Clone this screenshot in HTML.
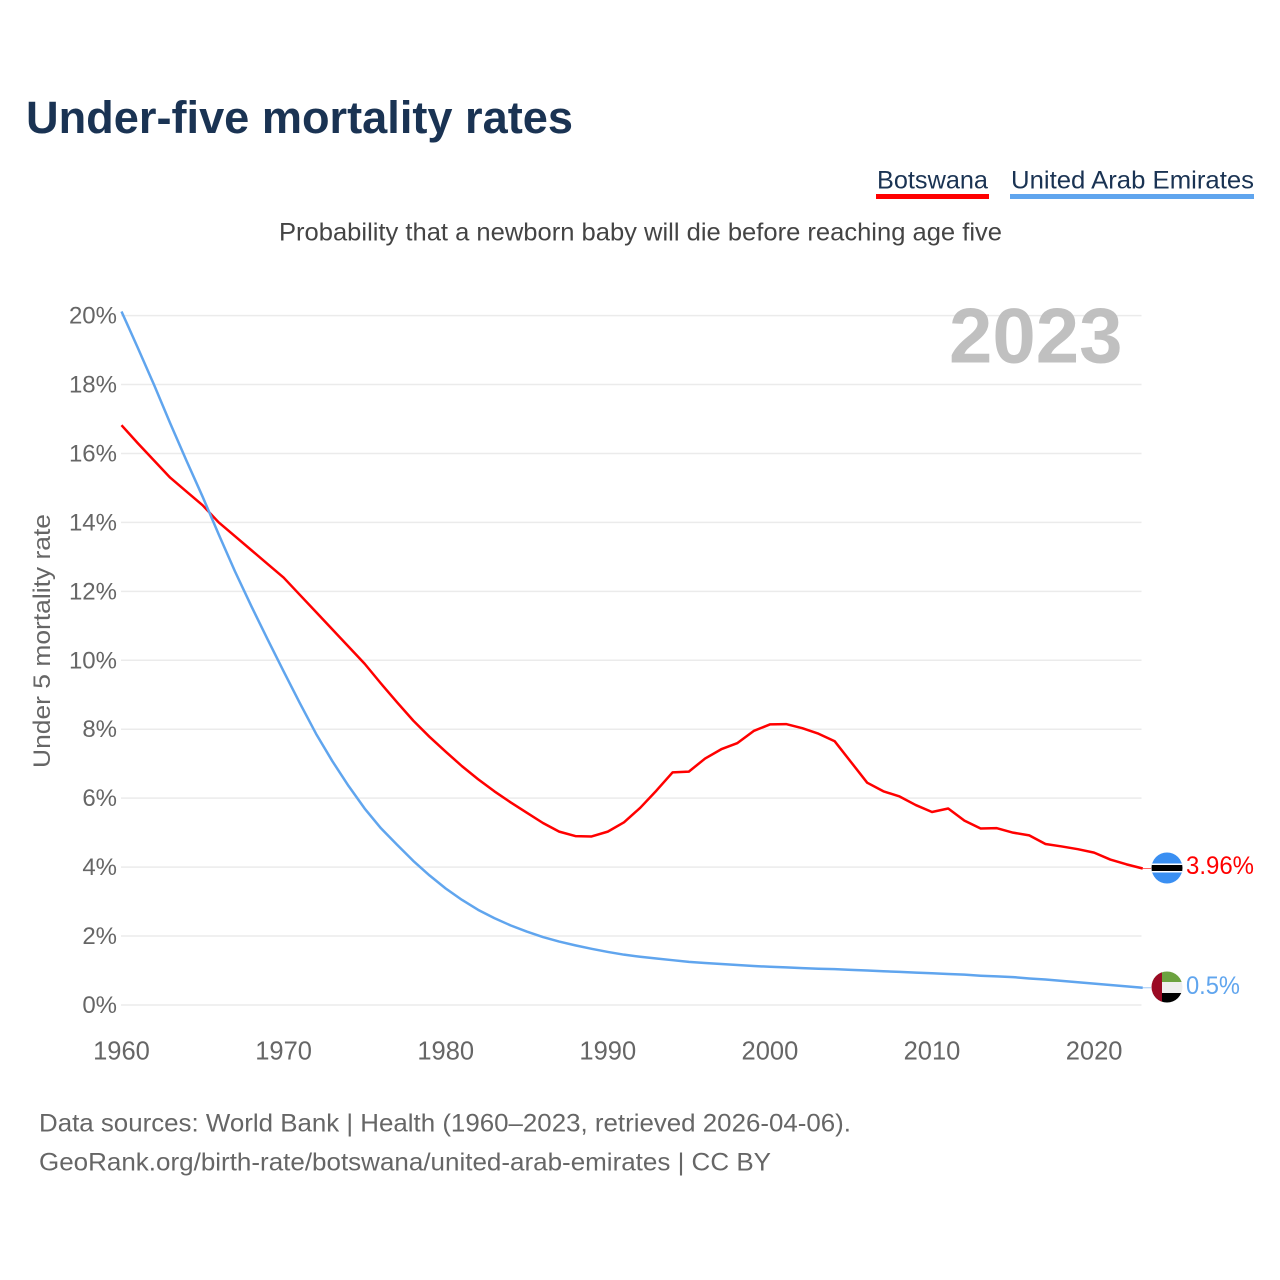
<!DOCTYPE html>
<html lang="en">
<head>
<meta charset="utf-8">
<title>Under-five mortality rates</title>
<style>
html,body{margin:0;padding:0;background:#fff;}
svg{display:block;font-family:"Liberation Sans",sans-serif;}
</style>
</head>
<body>
<svg id="chart" width="1280" height="1280" viewBox="0 0 1280 1280" xmlns="http://www.w3.org/2000/svg">
  <defs>
    <clipPath id="flag-clip-bw"><circle cx="1167" cy="868" r="15.5"/></clipPath>
    <clipPath id="flag-clip-ae"><circle cx="1167" cy="987" r="15.5"/></clipPath>
  </defs>
  <rect x="0" y="0" width="1280" height="1280" fill="#fff"/>
  <text x="26" y="133" font-size="45" font-weight="700" fill="#1a3353" textLength="547" lengthAdjust="spacingAndGlyphs">Under-five mortality rates</text>
  <g>
    <g>
      <text x="877" y="188.5" font-size="25" fill="#1a3353" textLength="111" lengthAdjust="spacingAndGlyphs">Botswana</text>
      <rect x="876" y="194" width="113" height="5" fill="#ff0000"/>
    </g>
    <g>
      <text x="1011" y="188.5" font-size="25" fill="#1a3353" textLength="243" lengthAdjust="spacingAndGlyphs">United Arab Emirates</text>
      <rect x="1010" y="194" width="244" height="5" fill="#60a5ee"/>
    </g>
  </g>
  <text x="279" y="240.5" font-size="25" fill="#444" textLength="723" lengthAdjust="spacingAndGlyphs">Probability that a newborn baby will die before reaching age five</text>

  <g id="grid"></g>
  <text x="949" y="362.5" font-size="78" font-weight="700" fill="#bdbdbd" fill-opacity="0.95">2023</text>
  <g id="y-axis"></g>
  <g id="x-axis"></g>
  <text transform="translate(50,768) rotate(-90)" x="0" y="0" font-size="24.5" fill="#666" textLength="254" lengthAdjust="spacingAndGlyphs">Under 5 mortality rate</text>
  <g id="series"></g>

  <g clip-path="url(#flag-clip-bw)">
    <rect x="1151" y="852" width="32" height="32" fill="#3a8ff2"/>
    <rect x="1151" y="863.5" width="32" height="9" fill="#fff"/>
    <rect x="1151" y="865" width="32" height="6" fill="#000"/>
  </g>
  <g clip-path="url(#flag-clip-ae)">
    <rect x="1151" y="971" width="32" height="11" fill="#6ca23f"/>
    <rect x="1151" y="982" width="32" height="11" fill="#eeeeee"/>
    <rect x="1151" y="993" width="32" height="11" fill="#000"/>
    <rect x="1151" y="971" width="11" height="33" fill="#9b0a24"/>
  </g>
  <text x="1186" y="874" font-size="25" fill="#ff0000" textLength="68" lengthAdjust="spacingAndGlyphs">3.96%</text>
  <text x="1186" y="994" font-size="25" fill="#60a5ee" textLength="54" lengthAdjust="spacingAndGlyphs">0.5%</text>

  <text x="39" y="1131.5" font-size="25" fill="#666" textLength="812" lengthAdjust="spacingAndGlyphs">Data sources: World Bank | Health (1960–2023, retrieved 2026-04-06).</text>
  <text x="39" y="1170.5" font-size="25" fill="#666" textLength="732" lengthAdjust="spacingAndGlyphs">GeoRank.org/birth-rate/botswana/united-arab-emirates | CC BY</text>
</svg>
<script>
const firstYear = 1960;
const yTickValues = [0, 2, 4, 6, 8, 10, 12, 14, 16, 18, 20];
const yTickLabels = ["0%", "2%", "4%", "6%", "8%", "10%", "12%", "14%", "16%", "18%", "20%"];
const xTickValues = [1960, 1970, 1980, 1990, 2000, 2010, 2020];
const xTickLabels = ["1960", "1970", "1980", "1990", "2000", "2010", "2020"];
const botswana = [16.82,16.3,15.8,15.3,14.9,14.5,14.0,13.6,13.2,12.8,12.4,11.9,11.4,10.9,10.4,9.9,9.33,8.78,8.25,7.78,7.35,6.93,6.55,6.2,5.88,5.58,5.28,5.03,4.9,4.89,5.03,5.3,5.72,6.22,6.75,6.77,7.15,7.42,7.6,7.95,8.14,8.15,8.03,7.87,7.65,7.05,6.45,6.2,6.05,5.8,5.6,5.7,5.35,5.12,5.13,5.0,4.92,4.67,4.6,4.52,4.42,4.22,4.08,3.96];
const uae = [20.12,19.07,18.0,16.88,15.8,14.75,13.65,12.58,11.58,10.62,9.68,8.76,7.87,7.08,6.36,5.7,5.13,4.65,4.18,3.76,3.38,3.05,2.76,2.52,2.31,2.13,1.97,1.84,1.73,1.63,1.54,1.46,1.4,1.35,1.3,1.25,1.22,1.19,1.16,1.13,1.11,1.09,1.07,1.05,1.04,1.02,1.0,0.98,0.96,0.94,0.92,0.9,0.88,0.85,0.83,0.81,0.77,0.74,0.7,0.66,0.62,0.58,0.54,0.5];

const NS = 'http://www.w3.org/2000/svg';
function xScale(year) { return 121.5 + (year - 1960) * 16.21; }
function yScale(pct) { return 1005 - pct * 34.47; }
function pathFor(values) {
  return values.map(function (v, i) {
    return (i ? 'L' : 'M') + xScale(firstYear + i).toFixed(2) + ' ' + yScale(v).toFixed(2);
  }).join(' ');
}

const gridGroup = document.getElementById('grid');
const yGroup = document.getElementById('y-axis');
yTickValues.forEach(function (v, i) {
  const line = document.createElementNS(NS, 'line');
  
  
  line.setAttribute('x1', 121);
  line.setAttribute('x2', 1141.5);
  line.setAttribute('y1', yScale(v));
  line.setAttribute('y2', yScale(v));
  line.setAttribute('stroke', '#ebebeb');
  line.setAttribute('stroke-width', '1.5');
  gridGroup.appendChild(line);

  const label = document.createElementNS(NS, 'text');
  
  
  label.setAttribute('x', 117);
  label.setAttribute('y', yScale(v) + 8);
  label.setAttribute('text-anchor', 'end');
  label.setAttribute('font-size', '24');
  label.setAttribute('fill', '#666');
  label.textContent = yTickLabels[i];
  yGroup.appendChild(label);
});

const xGroup = document.getElementById('x-axis');
xTickValues.forEach(function (v, i) {
  const label = document.createElementNS(NS, 'text');
  
  
  label.setAttribute('x', xScale(v));
  label.setAttribute('y', 1059.5);
  label.setAttribute('text-anchor', 'middle');
  label.setAttribute('font-size', '25.5');
  label.setAttribute('fill', '#666');
  label.textContent = xTickLabels[i];
  xGroup.appendChild(label);
});

const seriesGroup = document.getElementById('series');

const stubRed = document.createElementNS(NS, 'line');


stubRed.setAttribute('x1', xScale(firstYear + botswana.length - 1));
stubRed.setAttribute('x2', 1151);
stubRed.setAttribute('y1', yScale(botswana[botswana.length - 1]));
stubRed.setAttribute('y2', yScale(botswana[botswana.length - 1]));
stubRed.setAttribute('stroke', '#ff0000');
stubRed.setAttribute('stroke-opacity', '0.6');
stubRed.setAttribute('stroke-width', '1');
seriesGroup.appendChild(stubRed);

const stubBlue = document.createElementNS(NS, 'line');


stubBlue.setAttribute('x1', xScale(firstYear + uae.length - 1));
stubBlue.setAttribute('x2', 1151);
stubBlue.setAttribute('y1', yScale(uae[uae.length - 1]));
stubBlue.setAttribute('y2', yScale(uae[uae.length - 1]));
stubBlue.setAttribute('stroke', '#60a5ee');
stubBlue.setAttribute('stroke-opacity', '0.6');
stubBlue.setAttribute('stroke-width', '1');
seriesGroup.appendChild(stubBlue);

const lineRed = document.createElementNS(NS, 'path');


lineRed.setAttribute('d', pathFor(botswana));
lineRed.setAttribute('fill', 'none');
lineRed.setAttribute('stroke', '#ff0000');
lineRed.setAttribute('stroke-width', '2.5');
lineRed.setAttribute('stroke-linejoin', 'round');
seriesGroup.appendChild(lineRed);

const lineBlue = document.createElementNS(NS, 'path');


lineBlue.setAttribute('d', pathFor(uae));
lineBlue.setAttribute('fill', 'none');
lineBlue.setAttribute('stroke', '#60a5ee');
lineBlue.setAttribute('stroke-width', '2.5');
lineBlue.setAttribute('stroke-linejoin', 'round');
seriesGroup.appendChild(lineBlue);
</script>
</body>
</html>
